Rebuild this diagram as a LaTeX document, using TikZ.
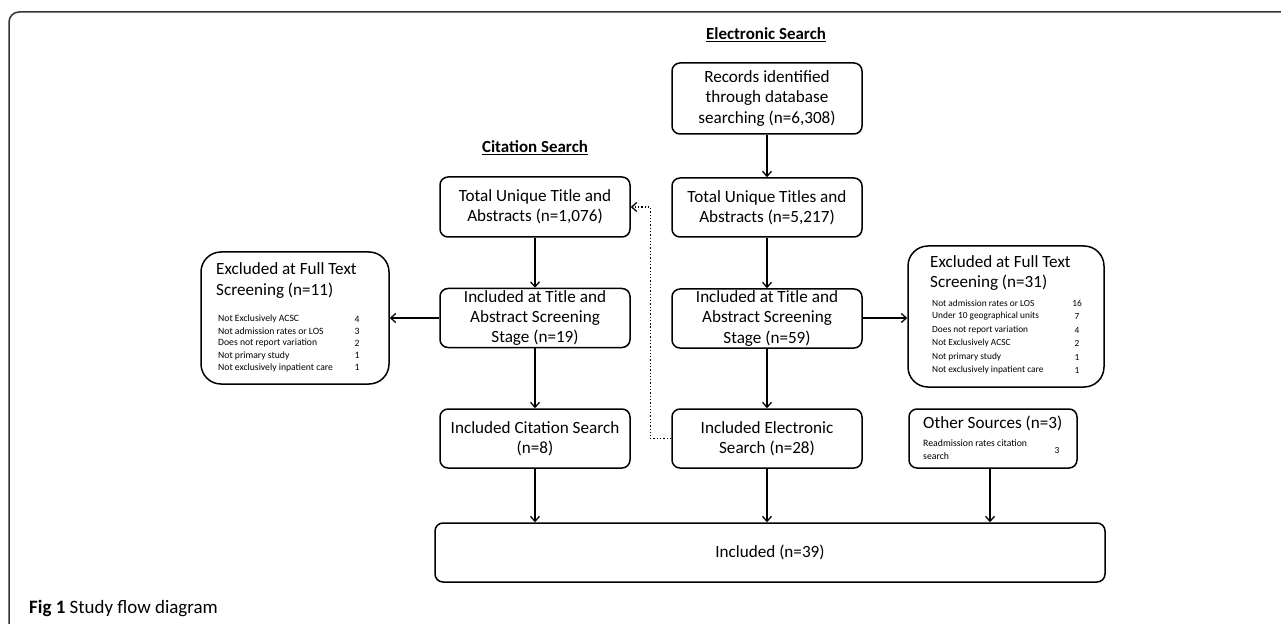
\documentclass[tikz,border=0pt]{standalone}
\usepackage{fontspec}
\setmainfont{Carlito}
\usetikzlibrary{arrows.meta,calc}
\begin{document}
\begin{tikzpicture}[x=1bp,y=-1bp,
  box/.style={draw, line width=1.5bp, rounded corners=8bp, align=center, inner sep=0pt, font=\fontsize{17.2}{20.5}\selectfont},
  exbox/.style={draw, line width=1.5bp, rounded corners=20bp, inner sep=0pt},
  extitle/.style={anchor=west, align=left, inner sep=0pt, font=\fontsize{17.2}{22}\selectfont},
  item/.style={anchor=west, inner sep=0pt, font=\fontsize{9.4}{11}\selectfont},
  num/.style={inner sep=0pt, font=\fontsize{9.4}{11}\selectfont},
  head/.style={inner sep=0pt, font=\fontsize{17}{20}\selectfont\bfseries},
  arr/.style={line width=1.3bp, -{Straight Barb[length=5bp,width=9bp]}}]
\useasboundingbox (0,0) rectangle (1281,624);
\draw[line width=1.5bp, draw=black!80, rounded corners=10bp] (9,630) -- (9,12) -- (1290,12);

\node[head] (elecT) at (766,35) {\underline{Electronic Search}};
\node[head] (citT) at (535,148) {\underline{Citation Search}};

\node[box, minimum width=190bp, minimum height=71bp] (rec) at (767,98.5) {Records identified\\through database\\searching (n=6,308)};
\node[box, minimum width=190bp, minimum height=59bp] (totE) at (767,207.5) {Total Unique Titles and\\Abstracts (n=5,217)};
\node[box, minimum width=190bp, minimum height=59bp] (incTE) at (767,318.5) {Included at Title and\\Abstract Screening\\Stage (n=59)};
\node[box, minimum width=190bp, minimum height=59bp] (incE) at (767,438.5) {Included Electronic\\Search (n=28)};

\node[box, minimum width=190bp, minimum height=60bp] (totC) at (535,207) {Total Unique Title and\\Abstracts (n=1,076)};
\node[box, minimum width=190bp, minimum height=59bp] (incTC) at (535,318) {Included at Title and\\Abstract Screening\\Stage (n=19)};
\node[box, minimum width=190bp, minimum height=59bp] (incC) at (535,438.5) {Included Citation Search\\(n=8)};

\node[box, minimum width=670bp, minimum height=59bp] (final) at (770,552.5) {Included (n=39)};

% excluded citation
\node[exbox, minimum width=188bp, minimum height=132bp] (exC) at (295,318) {};
\node[extitle] (exCt) at (216,280.5) {Excluded at Full Text\\Screening (n=11)};
\foreach \t/\n [count=\i] in {Not Exclusively ACSC/4, Not admission rates or LOS/3, Does not report variation/2, Not primary study/1, Not exclusively inpatient care/1}{
  \node[item, font=\fontsize{9.7}{11}\selectfont] (exCi\i) at (218,{319+12.2*(\i-1)}) {\t};
  \node[num, font=\fontsize{9.7}{11}\selectfont] (exCn\i) at (357,{319+12.2*(\i-1)}) {\n};
}

% excluded electronic
\node[exbox, minimum width=196bp, minimum height=141bp] (exE) at (1006,316.5) {};
\node[extitle, font=\fontsize{17.2}{20.5}\selectfont] (exEt) at (930,273) {Excluded at Full Text\\Screening (n=31)};
\foreach \t/\n [count=\i] in {Not admission rates or LOS/16, Under 10 geographical units/7, Does not report variation/4, Not Exclusively ACSC/2, Not primary study/1, Not exclusively inpatient care/1}{
  \node[item] (exEi\i) at (932,{303+13.5*(\i-1)}) {\t};
  \node[num] (exEn\i) at (1077,{303+13.5*(\i-1)}) {\n};
}

% other sources
\node[box, minimum width=168bp, minimum height=59bp] (other) at (993,438.5) {};
\node[extitle] (otherT) at (923,423) {Other Sources (n=3)};
\node[item, align=left, font=\fontsize{9.8}{13}\selectfont] (otherS) at (923,449.5) {Readmission rates citation\\search};
\node[num] (otherN) at (1057,450) {3};

% arrows
\draw[arr] (rec) -- (totE);
\draw[arr] (totE) -- (incTE);
\draw[arr] (incTE) -- (incE);
\draw[arr] (totC) -- (incTC);
\draw[arr] (incTC) -- (incC);
\draw[arr] (incTC.west) -- (exC.east |- incTC.west);
\draw[arr] ([yshift=0.5bp]incTE.east) -- ([yshift=0.5bp]incTE.east -| exE.west);
\draw[arr] (incC.south) -- (incC.south |- final.north);
\draw[arr] (incE.south) -- (incE.south |- final.north);
\draw[arr] ([xshift=-3bp]other.south) -- ([xshift=-3bp]other.south |- final.north);
\draw[arr, dotted] (incE.west) -- ++(-21,0) |- (totC.east);

\node[anchor=west, inner sep=0pt, font=\fontsize{19}{22}\selectfont] (cap) at (29,608) {\textbf{Fig 1} Study flow diagram};
\end{tikzpicture}
\end{document}
